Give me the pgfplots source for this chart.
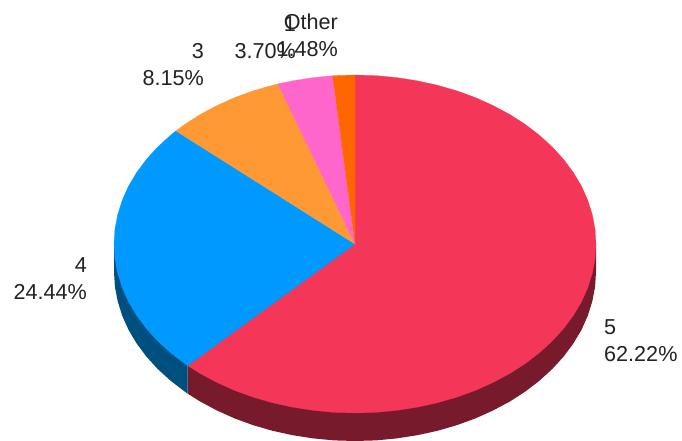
\documentclass[border=0pt]{standalone}
\usepackage{fontspec}
\setmainfont{Liberation Sans}
\usepackage{xcolor}
\usepackage{pgfplots}
\pgfplotsset{compat=1.18}
\definecolor{c5}{HTML}{F43658}
\definecolor{c5d}{HTML}{761A2C}
\definecolor{c4}{HTML}{0099FF}
\definecolor{c4d}{HTML}{00507F}
\definecolor{c3}{HTML}{FF9933}
\definecolor{c2}{HTML}{FF66CC}
\definecolor{c1}{HTML}{FF6600}
\definecolor{txt}{HTML}{222222}
\tikzset{
  lab/.style={inner sep=0pt, text=txt, font=\fontsize{21.6}{27}\selectfont}
}
\begin{document}
\begin{tikzpicture}
% hidden axis gives no box of its own, so fix the page size here
\useasboundingbox (0,0) rectangle (682pt,441pt);
\begin{axis}[
  at={(0,0)}, anchor=south west,
  width=682pt, height=441pt, scale only axis,
  axis lines=none, clip=false,
  xmin=-355, xmax=327, ymin=-197, ymax=244,
  no marks
]
% side walls, the top faces are drawn over them
\addplot[draw=none, fill=c5d] coordinates {(241,0) (241,-28) (240.1,-42.7) (237.3,-57.3) (232.8,-71.7) (226.5,-85.8) (218.4,-99.4) (208.7,-112.5) (197.4,-124.9) (184.6,-136.6) (170.4,-147.5) (154.9,-157.5) (138.2,-166.4) (120.5,-174.4) (101.8,-181.2) (82.4,-186.8) (62.4,-191.2) (41.8,-194.4) (21,-196.4) (0,-197) (-21,-196.4) (-41.8,-194.4) (-62.4,-191.2) (-82.4,-186.8) (-101.8,-181.2) (-120.5,-174.4) (-138.2,-166.4) (-154.9,-157.5) (-167.4,-149.6) (-167.4,-121.6) (0,0)} --cycle;
\addplot[draw=none, fill=c4d] coordinates {(-167.4,-121.6) (-167.4,-149.6) (-170.4,-147.5) (-184.6,-136.6) (-197.4,-124.9) (-208.7,-112.5) (-218.4,-99.4) (-226.5,-85.8) (-232.8,-71.7) (-237.3,-57.3) (-240.1,-42.7) (-241,-28) (-241,0) (0,0)} --cycle;
% top faces: 5, 4, 3, 1, Other
\addplot[draw=c5, line width=0.2pt, fill=c5] coordinates {(0,0) (0,169) (21,168.4) (41.8,166.4) (62.4,163.2) (82.4,158.8) (101.8,153.2) (120.5,146.4) (138.2,138.4) (154.9,129.5) (170.4,119.5) (184.6,108.6) (197.4,96.9) (208.7,84.5) (218.4,71.4) (226.5,57.8) (232.8,43.7) (237.3,29.3) (240.1,14.7) (241,0) (240.1,-14.7) (237.3,-29.3) (232.8,-43.7) (226.5,-57.8) (218.4,-71.4) (208.7,-84.5) (197.4,-96.9) (184.6,-108.6) (170.4,-119.5) (154.9,-129.5) (138.2,-138.4) (120.5,-146.4) (101.8,-153.2) (82.4,-158.8) (62.4,-163.2) (41.8,-166.4) (21,-168.4) (0,-169) (-21,-168.4) (-41.8,-166.4) (-62.4,-163.2) (-82.4,-158.8) (-101.8,-153.2) (-120.5,-146.4) (-138.2,-138.4) (-154.9,-129.5) (-167.4,-121.6)} --cycle;
\addplot[draw=c4, line width=0.2pt, fill=c4] coordinates {(0,0) (-167.4,-121.6) (-170.4,-119.5) (-184.6,-108.6) (-197.4,-96.9) (-208.7,-84.5) (-218.4,-71.4) (-226.5,-57.8) (-232.8,-43.7) (-237.3,-29.3) (-240.1,-14.7) (-241,0) (-240.1,14.7) (-237.3,29.3) (-232.8,43.7) (-226.5,57.8) (-218.4,71.4) (-208.7,84.5) (-197.4,96.9) (-184.6,108.6) (-179.1,113.1)} --cycle;
\addplot[draw=c3, line width=0.2pt, fill=c3] coordinates {(0,0) (-179.1,113.1) (-170.4,119.5) (-154.9,129.5) (-138.2,138.4) (-120.5,146.4) (-101.8,153.2) (-82.4,158.8) (-77.1,160.1)} --cycle;
\addplot[draw=c2, line width=0.2pt, fill=c2] coordinates {(0,0) (-77.1,160.1) (-62.4,163.2) (-41.8,166.4) (-22.4,168.3)} --cycle;
\addplot[draw=c1, line width=0.2pt, fill=c1] coordinates {(0,0) (-22.4,168.3) (-21,168.4) (0,169)} --cycle;
% labels
\node[lab, anchor=west, align=left] at (axis cs:249,-97) {5\\62.22\%};
\node[lab, anchor=east, align=right] at (axis cs:-268,-35) {4\\24.44\%};
\node[lab, anchor=east, align=right] at (axis cs:-151,179) {3\\8.15\%};
\node[lab, anchor=east, align=right] at (axis cs:-59,206) {1\\3.70\%};
\node[lab, anchor=east, align=right] at (axis cs:-17,208.5) {Other\\1.48\%};
\end{axis}
\end{tikzpicture}
\end{document}
